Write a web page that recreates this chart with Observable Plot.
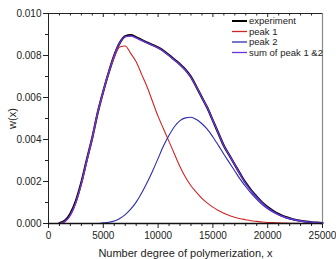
<!DOCTYPE html>
<html><head><meta charset="utf-8">
<script src="https://cdn.jsdelivr.net/npm/d3@7"></script>
<script src="https://cdn.jsdelivr.net/npm/@observablehq/plot@0.6"></script>
<style>body{margin:0;background:#fff}#chart{width:336px;height:259px}</style>
</head><body><div id="chart"></div>
<script>
const xValues = [0,500,1000,1500,2000,2500,3000,3500,4000,4500,5000,5500,6000,6500,7000,7500,8000,8500,9000,9500,10000,10500,11000,11500,12000,12500,13000,13500,14000,14500,15000,15500,16000,16500,17000,17500,18000,18500,19000,19500,20000,20500,21000,21500,22000,22500,23000,23500,24000,24500,25000];
const experiment = [null,null,0.00002,0.00014,0.00048,0.00108,0.00196,0.00305,0.0041,0.0053,0.0063,0.0072,0.008,0.0086,0.00892,0.00897,0.00887,0.00874,0.00862,0.0085,0.00838,0.00822,0.00802,0.0078,0.00758,0.00732,0.00698,0.0065,0.006,0.0055,0.0049,0.0043,0.0037,0.00325,0.0028,0.00235,0.00193,0.00158,0.00128,0.001,0.00078,0.0006,0.00045,0.00033,0.00025,0.00018,0.00013,0.00009,0.00006,0.00004,0.00002];
const peak1 = [null,null,0,0.00008,0.0004,0.001,0.0019,0.003,0.0041,0.0053,0.0063,0.0072,0.0079,0.0084,0.00845,0.0081,0.0077,0.0071,0.0065,0.0058,0.0051,0.0045,0.0039,0.0033,0.0027,0.0022,0.0018,0.00148,0.0012,0.00097,0.00078,0.00062,0.00049,0.00038,0.0003,0.00023,0.00018,0.00013,0.0001,0.00007,0.00005,0.00004,0.00003,0.00002,0.00001,0.00001,0,0,0,0,0];
const peak2 = [null,null,null,null,null,null,null,null,null,0,0.00003,0.00006,0.00012,0.00024,0.00042,0.00068,0.00102,0.00145,0.00195,0.0025,0.0031,0.0037,0.0042,0.00462,0.0049,0.00503,0.00506,0.00495,0.00475,0.00448,0.00412,0.00372,0.0033,0.0029,0.0025,0.0021,0.00175,0.00143,0.00115,0.0009,0.0007,0.00053,0.0004,0.0003,0.00022,0.00016,0.00011,0.00008,0.00005,0.00003,0.00002];
const sumPeaks = [null,null,0,0.0001,0.0004,0.001,0.0019,0.003,0.0041,0.0053,0.0063,0.0072,0.008,0.0086,0.0089,0.00893,0.00884,0.00872,0.0086,0.00848,0.00836,0.0082,0.008,0.00778,0.00756,0.0073,0.00696,0.0065,0.006,0.0055,0.0049,0.0043,0.0037,0.00325,0.0028,0.00233,0.0019,0.00155,0.00125,0.00098,0.00075,0.00057,0.00042,0.00031,0.00023,0.00017,0.00012,0.00008,0.00006,0.00004,0.00002];

const xTicks = [0,5000,10000,15000,20000,25000];
const xMinorTicks = [1000,2000,3000,4000,6000,7000,8000,9000,11000,12000,13000,14000,16000,17000,18000,19000,21000,22000,23000,24000];
const yTicks = [0,0.002,0.004,0.006,0.008,0.010];
const yMinorTicks = [0.001,0.003,0.005,0.007,0.009];
const seriesNames = ["experiment","peak 1","peak 2","sum of peak 1 &2"];
const seriesColors = ["#000000","#d02525","#2c2cae","#6b34d6"];
const seriesWidths = [2.2,1.1,1.1,1.4];
const xLabel = "Number degree of polymerization, x";
const yLabel = "w(x)";

const seriesValues = [experiment, peak1, peak2, sumPeaks];
const rows = seriesValues.map(vals => xValues.map((x, i) => ({x, y: vals[i]})).filter(d => d.y !== null));

const innerH = 259 - 13 - 36;
const plot = Plot.plot({
  width: 336, height: 259,
  marginLeft: 48, marginRight: 14, marginTop: 13, marginBottom: 36,
  style: {fontFamily: "'Liberation Sans', Arial, sans-serif", fontSize: "10px", color: "#222", background: "#fff", overflow: "visible"},
  x: {domain: [0, 25000]},
  y: {domain: [0, 0.01]},
  marks: [
    Plot.axisY(yTicks, {tickSize: 5, tickPadding: 2, tickFormat: d3.format(".3f"), label: yLabel, labelAnchor: "center", labelArrow: "none", labelOffset: 40}),
    Plot.axisY(yMinorTicks, {tickSize: 3, tickFormat: () => "", label: null}),
    Plot.axisX(xTicks, {tickSize: 5, tickPadding: 3, tickFormat: d3.format("d"), label: xLabel, labelAnchor: "center", labelArrow: "none", labelOffset: 33}),
    Plot.axisX(xMinorTicks, {tickSize: 3, tickFormat: () => "", label: null}),
    Plot.tickX(xTicks, {x: d => d, insetBottom: innerH - 4, stroke: "#222"}),
    Plot.tickX(xMinorTicks, {x: d => d, insetBottom: innerH - 2.5, stroke: "#222"}),
    Plot.ruleX([25000], {stroke: "#8a8a8a", strokeWidth: 1.2}),
    Plot.ruleY([0.01], {stroke: "#222"}),
    Plot.ruleX([0], {stroke: "#222"}),
    ...rows.map((r, i) => Plot.line(r, {x: "x", y: "y", stroke: seriesColors[i], strokeWidth: seriesWidths[i], curve: "monotone-x"})),
    Plot.ruleY([0], {stroke: "#111", strokeWidth: 1.3})
  ]
});

const svg = d3.select(plot);
svg.selectAll('[aria-label="x-axis label"] text').style("font-size", "11px");
svg.selectAll('[aria-label="y-axis label"] text').style("font-size", "11px");
const lg = svg.append("g").attr("font-size", "9.5px").attr("fill", "#222").attr("text-anchor", "start");
seriesNames.forEach((name, i) => {
  const y = 21 + i * 10.5;
  lg.append("line").attr("x1", 232).attr("x2", 247).attr("y1", y).attr("y2", y)
    .attr("stroke", seriesColors[i]).attr("stroke-width", i === 0 ? 2 : 1.3);
  lg.append("text").attr("x", 249).attr("y", y).attr("dy", "0.35em").attr("text-anchor", "start").text(name);
});
document.getElementById("chart").appendChild(plot);
</script>
</body></html>
